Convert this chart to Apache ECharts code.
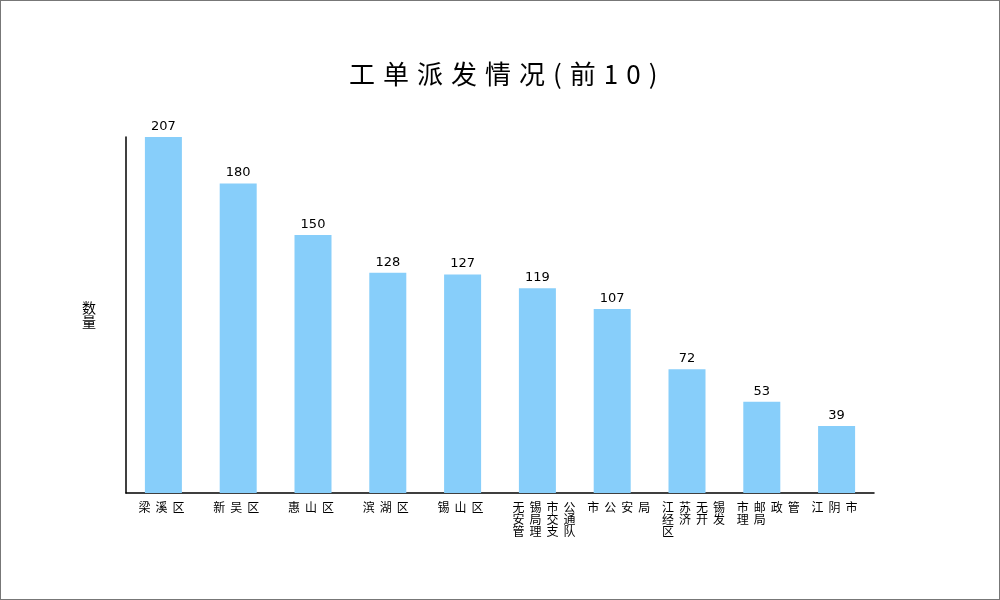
<!DOCTYPE html>
<html><head><meta charset="utf-8">
<script src="https://cdn.jsdelivr.net/npm/echarts@6/dist/echarts.min.js"></script>
<style>
html,body{margin:0;padding:0;background:#fff;}
#c{width:1000px;height:600px;box-sizing:border-box;border:1px solid #777;}
</style></head>
<body><div id="c"></div>
<script>
const titleText = '工单派发情况(前10)';
const yName = '数量';
const categories = ['梁溪区','新吴区','惠山区','滨湖区','锡山区','无锡市公安局交通管理支队','市公安局','江苏无锡经济开发区','市邮政管理局','江阴市'];
const values = [207,180,150,128,127,119,107,72,53,39];

// letter spacing only for texts whose font family list carries an "lsN" marker
(function(){
  const proto = CanvasRenderingContext2D.prototype;
  const orig = proto.fillText;
  proto.fillText = function(t, x, y, w){
    if ('letterSpacing' in this) {
      const m = /ls(\d+(?:\.\d+)?)/.exec(this.font || '');
      this.letterSpacing = m ? m[1] + 'px' : '0px';
    }
    const r = w === undefined ? orig.call(this, t, x, y) : orig.call(this, t, x, y, w);
    if ('letterSpacing' in this) this.letterSpacing = '0px';
    return r;
  };
})();

const chart = echarts.init(document.getElementById('c'), null, {renderer:'canvas'});
chart.setOption({
  animation:false,
  title:{text:titleText,left:343,top:55,textStyle:{fontSize:26,fontWeight:'normal',color:'#000',fontFamily:"'Noto Sans CJK SC', 'ls8'"}},
  grid:{left:125,right:125,top:136,bottom:106},
  xAxis:{type:'category',data:categories,
    axisLine:{lineStyle:{color:'#000',width:1.5}},
    axisTick:{show:false},
    axisLabel:{interval:0,color:'#000',fontSize:12,lineHeight:12,margin:8,align:'left',padding:[0,0,0,-25],
      fontFamily:"'Noto Sans CJK SC', 'ls5'",
      formatter:function(v){let out=[];for(let i=0;i<v.length;i+=4)out.push(v.slice(i,i+4));return out.join('\n');}}
  },
  yAxis:{type:'value',min:0,max:function(v){return v.max;},
    name:yName.split('').join('\n'),nameLocation:'middle',nameRotate:0,nameGap:30,
    nameTextStyle:{color:'#000',fontSize:14,lineHeight:14,fontFamily:'Noto Sans CJK SC'},
    axisLine:{show:true,lineStyle:{color:'#000',width:1.5}},
    axisTick:{show:false},axisLabel:{show:false},splitLine:{show:false}
  },
  series:[{type:'bar',data:values,barWidth:37,
    itemStyle:{color:'#87CEFA'},
    label:{show:true,position:'top',color:'#000',fontSize:13,distance:4,fontFamily:'DejaVu Sans'}}]
});
</script></body></html>
